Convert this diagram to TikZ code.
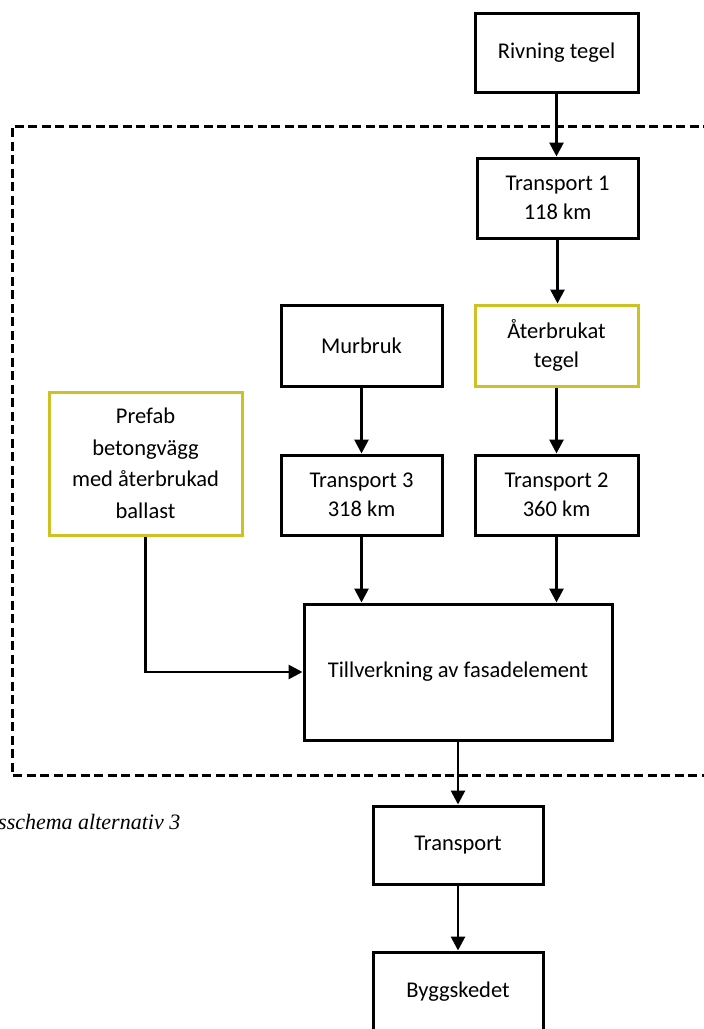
\documentclass[tikz,border=0pt]{standalone}
\usepackage{fontspec}
\setmainfont{Carlito}
\newfontfamily\capfont{Liberation Serif}
\usetikzlibrary{arrows.meta}
\definecolor{recycled}{RGB}{204,194,36}
\tikzset{
  proc/.style={draw=black, line width=3pt, fill=white, align=center,
    font=\fontsize{22.5}{29.5}\selectfont, inner sep=0pt},
  reuse/.style={proc, draw=recycled},
  flow/.style={line width=2.8pt, -{Triangle[width=14pt,length=14pt]}},
  boundary/.style={line width=3pt, dash pattern=on 9pt off 4.5pt}
}
\begin{document}
\begin{tikzpicture}[x=1pt,y=-1pt]
\useasboundingbox (0,0) rectangle (704,1029);
\begin{scope}
\clip (0,0) rectangle (704,1029);
% system boundary
\draw[boundary] (712,126) -- (12,126) -- (12,775) -- (712,775);

% process boxes
\node[proc, minimum width=163pt, minimum height=79pt] (riv) at (556.5,52.5) {Rivning tegel};
\node[proc, minimum width=161pt, minimum height=80pt] (t1) at (557.5,198) {Transport 1\\118 km};
\node[reuse, minimum width=163pt, minimum height=81pt] (ater) at (556.5,345.5) {Återbrukat\\tegel};
\node[proc, minimum width=161pt, minimum height=81pt] (mur) at (361.5,345.5) {Murbruk};
\node[reuse, minimum width=193pt, minimum height=143pt, font=\fontsize{22.5}{31.5}\selectfont] (pre) at (145.5,463.5) {Prefab\\betongvägg\\med återbrukad\\ballast};
\node[proc, minimum width=161pt, minimum height=80pt] (t3) at (361.5,495) {Transport 3\\318 km};
\node[proc, minimum width=163pt, minimum height=80pt] (t2) at (556.5,495) {Transport 2\\360 km};
\node[proc, minimum width=308pt, minimum height=136pt] (till) at (458,672) {Tillverkning av fasadelement};
\node[proc, minimum width=170pt, minimum height=78pt] (tr) at (458,845) {Transport};
\node[proc, minimum width=170pt, minimum height=80pt] (bygg) at (458,992) {Byggskedet};

% caption
\node[anchor=west, inner sep=0pt, font=\capfont\itshape\fontsize{22}{24}\selectfont] (cap) at (-2,822) {sschema alternativ 3};

% flows
\draw[flow] (riv.south) -- (riv.south |- t1.north);
\draw[flow] (t1.south) -- (t1.south |- ater.north);
\draw[flow] (ater.south) -- (ater.south |- t2.north);
\draw[flow] (mur.south) -- (mur.south |- t3.north);
\draw[flow] (t3.south) -- (t3.south |- till.north);
\draw[flow] (t2.south) -- (t2.south |- till.north);
\draw[flow] (pre.south) |- (till.west);
\draw[flow] (till.south) -- (tr.north);
\draw[flow] (tr.south) -- (bygg.north);
\end{scope}
\end{tikzpicture}
\end{document}
